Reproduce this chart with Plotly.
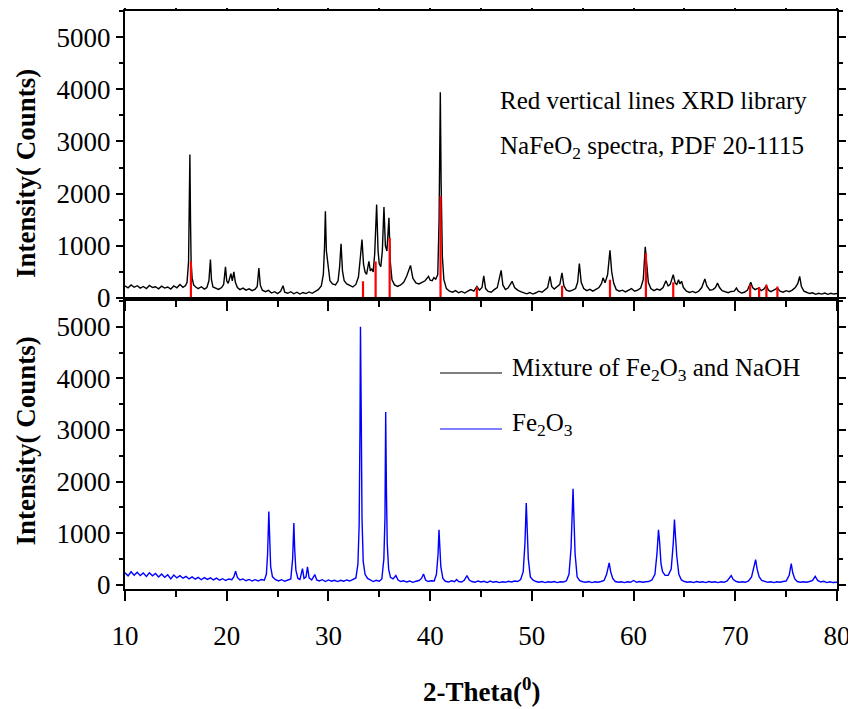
import plotly.graph_objects as go

# ---------------- data ----------------
# Top panel: mixture of Fe2O3 and NaOH (black)
mix_two_theta = [
    10.0, 10.3, 10.6, 10.9, 11.2, 11.5, 11.8, 12.1, 12.4, 12.7, 13.0, 13.3, 13.6, 13.9, 14.2, 14.5, 14.8, 15.1, 15.4, 15.7, 15.95,
    16.1, 16.25, 16.33, 16.38, 16.44, 16.5, 16.6, 16.75, 16.95,
    17.2, 17.5, 17.8, 18.05, 18.25, 18.4, 18.5, 18.65, 18.9, 19.2, 19.5, 19.7, 19.88, 20.0, 20.15, 20.3, 20.41, 20.55, 20.7, 20.85,
    21.05, 21.3, 21.6, 21.9, 22.2, 22.5, 22.8, 23.0, 23.16, 23.3, 23.5, 23.8, 24.1, 24.4, 24.7, 25.0, 25.3, 25.54, 25.7, 26.0,
    26.3, 26.6, 26.9, 27.2, 27.5, 27.8, 28.1, 28.4, 28.7, 29.0, 29.3, 29.5, 29.62, 29.7, 29.8, 29.92, 30.0, 30.15, 30.4, 30.7,
    30.95, 31.1, 31.24, 31.38, 31.55, 31.8, 32.1, 32.4, 32.7, 32.95, 33.15, 33.3, 33.45, 33.6, 33.75, 33.98, 34.12, 34.25, 34.4,
    34.55, 34.74, 34.88, 35.0, 35.15, 35.3, 35.46, 35.6, 35.75, 35.95, 36.08, 36.25, 36.5, 36.8, 37.1, 37.4, 37.7, 38.07, 38.3,
    38.6, 38.9, 39.2, 39.5, 39.84, 40.0, 40.2, 40.37, 40.55, 40.75, 40.88, 41.0, 41.08, 41.2, 41.35, 41.6, 41.9, 42.2, 42.5, 42.8,
    43.1, 43.4, 43.7, 44.0, 44.3, 44.6, 44.85, 45.1, 45.27, 45.45, 45.7, 46.0, 46.3, 46.6, 46.98, 47.15, 47.4, 47.65, 47.85, 48.06,
    48.3, 48.6, 48.9, 49.2, 49.5, 49.8, 50.1, 50.4, 50.7, 51.0, 51.3, 51.55, 51.78, 51.95, 52.2, 52.5, 52.75, 52.96, 53.15, 53.4,
    53.7, 54.0, 54.3, 54.5, 54.67, 54.85, 55.1, 55.4, 55.7, 56.0, 56.3, 56.6, 56.85, 57.0, 57.2, 57.45, 57.68, 57.85, 58.05, 58.3,
    58.6, 58.9, 59.2, 59.5, 59.8, 60.1, 60.4, 60.7, 60.95, 61.15, 61.3, 61.45, 61.7, 62.0, 62.3, 62.6, 62.9, 63.18, 63.4, 63.6,
    63.9, 64.1, 64.25, 64.42, 64.55, 64.72, 64.9, 65.2, 65.5, 65.8, 66.1, 66.4, 66.7, 67.01, 67.2, 67.5, 67.8, 68.05, 68.25, 68.45,
    68.7, 69.0, 69.3, 69.6, 69.9, 70.11, 70.3, 70.6, 70.9, 71.2, 71.52, 71.7, 71.95, 72.15, 72.34, 72.55, 72.8, 73.06, 73.25, 73.5,
    73.8, 74.14, 74.4, 74.7, 75.0, 75.3, 75.6, 75.9, 76.15, 76.33, 76.5, 76.75, 77.0, 77.3, 77.6, 77.9, 78.2, 78.5, 78.8, 79.1,
    79.4, 79.7, 80.0,
]
mix_counts = [
    230, 195, 250, 205, 235, 190, 220, 180, 240, 200, 215, 175, 225, 190, 210, 170, 230, 195, 260, 205, 240,
    300, 700, 1850, 2750, 1500, 700, 380, 250, 210,
    180, 215, 170, 200, 330, 735, 350, 210, 190, 165, 200, 260, 595, 330, 280, 380, 465, 330, 500, 300,
    200, 160, 190, 150, 175, 140, 170, 220, 575, 250, 150, 120, 145, 95, 120, 85, 130, 235, 110, 90,
    120, 80, 110, 75, 105, 85, 115, 90, 130, 160, 230, 450, 1000, 1660, 900, 700, 520, 330, 270, 250,
    330, 600, 1040, 520, 330, 270, 240, 210, 260, 400, 800, 1120, 650, 500, 450, 700, 520, 560, 500,
    850, 1790, 900, 650, 600, 900, 1745, 1000, 900, 1535, 700, 350, 250, 220, 250, 300, 420, 625, 380,
    290, 270, 300, 330, 415, 340, 330, 390, 360, 450, 1500, 3945, 2200, 800, 350, 180, 130, 110, 140, 100,
    125, 95, 130, 160, 130, 220, 150, 200, 425, 180, 125, 110, 160, 200, 530, 250, 160, 190, 250, 320,
    200, 150, 120, 100, 80, 105, 75, 100, 130, 110, 150, 200, 415, 220, 170, 210, 260, 480, 230, 150,
    130, 150, 180, 300, 660, 300, 180, 140, 165, 130, 160, 200, 280, 385, 290, 450, 915, 500, 280, 160,
    130, 150, 115, 140, 180, 130, 150, 190, 350, 980, 600, 300, 180, 140, 170, 150, 200, 330, 230, 260,
    445, 280, 260, 350, 270, 320, 200, 130, 105, 125, 100, 130, 200, 365, 230, 150, 160, 200, 285, 200,
    140, 120, 100, 125, 130, 190, 130, 95, 110, 150, 300, 200, 160, 180, 190, 140, 170, 235, 150, 120,
    150, 190, 130, 110, 140, 120, 150, 200, 280, 415, 220, 130, 110, 85, 100, 70, 90, 75, 95, 70,
    90, 75, 85,
]

# Red vertical lines: XRD library NaFeO2, PDF 20-1115
pdf_two_theta = [16.48, 33.40, 34.64, 36.02, 41.02, 44.59, 52.97, 57.68, 61.21, 63.90, 71.46, 72.34, 73.06, 74.14]
pdf_counts = [700, 320, 700, 1150, 1950, 210, 235, 350, 860, 300, 255, 210, 255, 220]

# Bottom panel: Fe2O3 (blue)
fe_two_theta = [
    10.0, 10.3, 10.6, 10.9, 11.2, 11.5, 11.8, 12.1, 12.4, 12.7, 13.0, 13.3, 13.6, 13.9, 14.2, 14.5, 14.8, 15.1, 15.4, 15.7,
    16.0, 16.3, 16.6, 16.9, 17.2, 17.5, 17.8, 18.1, 18.4, 18.7, 19.0, 19.3, 19.6, 19.9, 20.2, 20.5, 20.7, 20.87, 21.05, 21.3,
    21.6, 21.9, 22.2, 22.5, 22.8, 23.1, 23.4, 23.7, 23.9, 24.02, 24.14, 24.22, 24.32, 24.5, 24.8, 25.1, 25.4, 25.7, 26.0, 26.3,
    26.48, 26.6, 26.68, 26.8, 27.0, 27.2, 27.45, 27.6, 27.8, 27.94, 28.1, 28.35, 28.66, 28.85, 29.1, 29.4, 29.7, 30.0, 30.3, 30.6,
    30.9, 31.2, 31.5, 31.8, 32.1, 32.4, 32.7, 32.9, 33.02, 33.1, 33.15, 33.22, 33.3, 33.42, 33.6, 33.85, 34.1, 34.4, 34.7, 35.0,
    35.25, 35.45, 35.56, 35.63, 35.7, 35.78, 35.92, 36.1, 36.35, 36.63, 36.85, 37.1, 37.4, 37.7, 38.0, 38.3, 38.6, 38.9, 39.15, 39.35,
    39.55, 39.8, 40.1, 40.4, 40.62, 40.78, 40.87, 40.95, 41.05, 41.25, 41.5, 41.8, 42.1, 42.4, 42.6, 42.8, 43.1, 43.35, 43.62, 43.85,
    44.1, 44.4, 44.7, 45.0, 45.3, 45.6, 45.9, 46.2, 46.5, 46.8, 47.1, 47.4, 47.7, 48.0, 48.3, 48.6, 48.9, 49.15, 49.32, 49.45,
    49.53, 49.65, 49.85, 50.1, 50.4, 50.7, 51.0, 51.3, 51.6, 51.9, 52.2, 52.5, 52.8, 53.1, 53.4, 53.65, 53.85, 54.05, 54.12, 54.25,
    54.45, 54.7, 55.0, 55.3, 55.6, 55.9, 56.2, 56.5, 56.8, 57.1, 57.35, 57.6, 57.75, 57.95, 58.2, 58.5, 58.8, 59.1, 59.4, 59.7,
    60.0, 60.3, 60.6, 60.9, 61.2, 61.5, 61.8, 62.1, 62.3, 62.45, 62.55, 62.7, 62.85, 63.1, 63.4, 63.7, 63.9, 64.02, 64.1, 64.25,
    64.45, 64.7, 65.0, 65.3, 65.6, 65.9, 66.2, 66.5, 66.8, 67.1, 67.4, 67.7, 68.0, 68.3, 68.6, 68.9, 69.2, 69.45, 69.6, 69.8,
    70.1, 70.4, 70.7, 71.0, 71.3, 71.6, 71.85, 72.0, 72.15, 72.35, 72.6, 72.9, 73.2, 73.5, 73.8, 74.1, 74.4, 74.7, 75.0, 75.3,
    75.5, 75.65, 75.85, 76.1, 76.4, 76.7, 77.0, 77.3, 77.6, 77.86, 78.1, 78.4, 78.7, 79.0, 79.3, 79.6, 79.9, 80.0,
]
fe_counts = [
    230, 170, 250, 180, 240, 175, 225, 160, 230, 170, 215, 150, 205, 140, 190, 110, 185, 130, 175, 125,
    160, 110, 150, 105, 140, 95, 135, 100, 130, 90, 125, 85, 115, 80, 110, 95, 150, 260, 140, 90,
    110, 75, 100, 70, 95, 70, 100, 85, 200, 600, 1420, 900, 350, 150, 95, 70, 95, 65, 90, 110,
    500, 1195, 700, 280, 120, 100, 310, 120, 150, 345, 130, 90, 195, 90, 70, 95, 60, 90, 65, 85,
    60, 85, 65, 90, 70, 95, 130, 400, 1150, 3000, 5000, 3450, 1300, 450, 200, 120, 90, 60, 85, 65,
    110, 500, 1300, 3350, 1850, 800, 300, 140, 110, 175, 90, 60, 75, 50, 70, 45, 65, 80, 120, 205,
    90, 60, 75, 70, 200, 600, 1065, 750, 350, 120, 65, 50, 75, 55, 100, 60, 50, 85, 175, 90,
    60, 45, 70, 50, 65, 40, 70, 45, 60, 40, 55, 45, 65, 50, 70, 60, 100, 250, 800, 1585,
    1150, 500, 150, 90, 60, 45, 60, 40, 55, 45, 60, 40, 55, 50, 75, 200, 700, 1860, 1400, 600,
    150, 75, 55, 45, 60, 40, 55, 45, 60, 80, 200, 420, 250, 120, 60, 45, 55, 40, 55, 45,
    80, 45, 60, 45, 55, 60, 90, 200, 600, 1065, 850, 400, 250, 180, 180, 300, 800, 1260, 1000, 550,
    200, 90, 60, 45, 55, 40, 60, 45, 55, 40, 60, 45, 55, 40, 55, 45, 70, 130, 175, 100,
    60, 45, 55, 45, 70, 150, 350, 485, 300, 150, 80, 55, 45, 55, 40, 55, 45, 60, 70, 180,
    405, 230, 110, 60, 45, 55, 45, 60, 80, 160, 80, 50, 65, 40, 55, 40, 50, 45,
]

x_range = [10, 80]
x_tick_values = [10, 20, 30, 40, 50, 60, 70, 80]
y_tick_values = [0, 1000, 2000, 3000, 4000, 5000]
top_y_range = [-20, 5500]
bottom_y_range = [-85, 5540]

# ---------------- figure ----------------
FONT = "Liberation Serif, Times New Roman, serif"
split = 0.5017

# red library lines (vertical segments from the bottom of the top panel)
red_x, red_y = [], []
for p, h in zip(pdf_two_theta, pdf_counts):
    red_x += [p, p, None]
    red_y += [top_y_range[0], h, None]

fig = go.Figure()
fig.add_trace(go.Scatter(x=mix_two_theta, y=mix_counts, mode="lines",
                         line=dict(color="black", width=1.4), xaxis="x", yaxis="y",
                         name="Mixture of Fe2O3 and NaOH", showlegend=False))
fig.add_trace(go.Scatter(x=red_x, y=red_y, mode="lines",
                         line=dict(color="#ff0000", width=2.2), xaxis="x", yaxis="y",
                         name="NaFeO2 PDF 20-1115", showlegend=False))
fig.add_trace(go.Scatter(x=fe_two_theta, y=fe_counts, mode="lines",
                         line=dict(color="#0000ff", width=1.4), xaxis="x2", yaxis="y2",
                         name="Fe2O3", showlegend=False))

tickfont = dict(family=FONT, size=27, color="black")
xcommon = dict(range=x_range, tickvals=x_tick_values, ticks="outside", ticklen=10, tickwidth=2,
               tickcolor="black", showline=True, linewidth=2, linecolor="black",
               showgrid=False, zeroline=False, automargin=False,
               minor=dict(dtick=5, ticks="outside", ticklen=6, tickwidth=2, tickcolor="black"))
ycommon = dict(tickvals=y_tick_values, ticks="outside", ticklen=7, tickwidth=2, tickcolor="black",
               showline=True, linewidth=2, linecolor="black", mirror="ticks",
               showgrid=False, zeroline=False, tickfont=tickfont, automargin=False,
               minor=dict(dtick=500, ticks="outside", ticklen=4, tickwidth=2, tickcolor="black"))

# the page body has an 8px margin, so the figure is offset by 8px; size/margins compensate
fig.update_layout(
    width=848, height=701,
    margin=dict(l=117, r=19, t=3, b=120),
    paper_bgcolor="white", plot_bgcolor="white",
    showlegend=False,
    xaxis=dict(**xcommon, anchor="y", showticklabels=False, mirror="ticks"),
    xaxis2=dict(**xcommon, anchor="y2", matches="x", mirror=True, tickfont=tickfont,
                ticklabelstandoff=12),
    yaxis=dict(**ycommon, domain=[split, 1], range=top_y_range, anchor="x"),
    yaxis2=dict(**ycommon, domain=[0, split], range=bottom_y_range, anchor="x2"),
)

ann = []
# y-axis titles
for yc in (0.718, 0.255):
    ann.append(dict(text="<b>Intensity( Counts)</b>", xref="paper", yref="paper", x=0, y=yc,
                    xshift=-99, xanchor="center", yanchor="middle", textangle=-90,
                    showarrow=False, font=dict(family=FONT, size=27, color="black")))
# x-axis title
ann.append(dict(text="<b>2-Theta(<sup>0</sup>)</b>", xref="paper", yref="paper", x=0.5, y=-0.175,
                xanchor="center", yanchor="middle", showarrow=False,
                font=dict(family=FONT, size=27, color="black")))
# note in top panel
ann.append(dict(text="Red vertical lines XRD library", xref="paper", yref="paper", x=0.5239, y=0.846,
                xanchor="left", yanchor="middle", showarrow=False,
                font=dict(family=FONT, size=25, color="black")))
ann.append(dict(text="NaFeO<sub>2</sub> spectra, PDF 20-1115", xref="paper", yref="paper", x=0.5239, y=0.764,
                xanchor="left", yanchor="middle", showarrow=False,
                font=dict(family=FONT, size=25, color="black")))
# manual legend in bottom panel
ann.append(dict(text="Mixture of Fe<sub>2</sub>O<sub>3</sub> and NaOH", xref="paper", yref="paper",
                x=0.5407, y=0.380, xanchor="left", yanchor="middle", showarrow=False,
                font=dict(family=FONT, size=25, color="black")))
ann.append(dict(text="Fe<sub>2</sub>O<sub>3</sub>", xref="paper", yref="paper",
                x=0.5407, y=0.285, xanchor="left", yanchor="middle", showarrow=False,
                font=dict(family=FONT, size=25, color="black")))
fig.update_layout(annotations=ann)

fig.add_shape(type="line", xref="paper", yref="paper", x0=0.4424, x1=0.5295, y0=0.3737, y1=0.3737,
              line=dict(color="black", width=1))
fig.add_shape(type="line", xref="paper", yref="paper", x0=0.4424, x1=0.5295, y0=0.2768, y1=0.2768,
              line=dict(color="#0000ff", width=1))

fig.write_html("out.html")
